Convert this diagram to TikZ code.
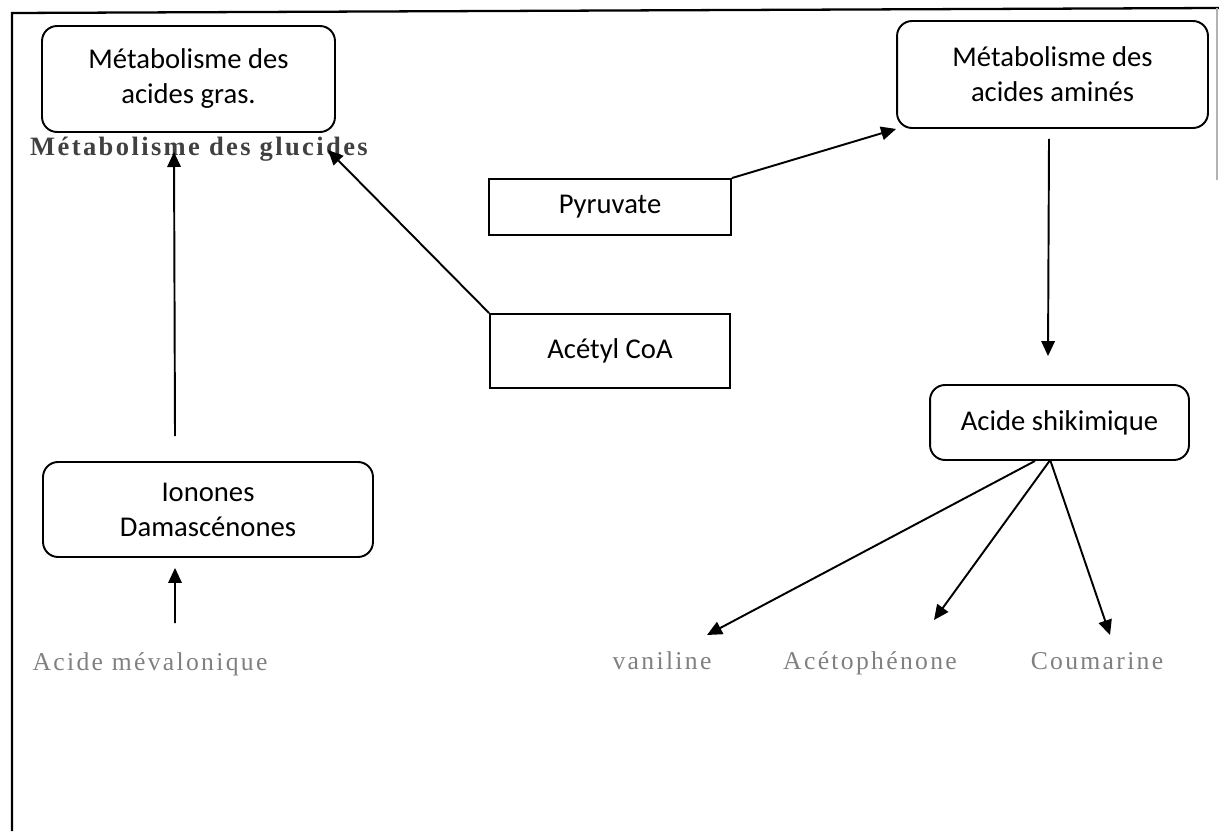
\documentclass[tikz,border=0pt]{standalone}
\usepackage{fontspec}
\setmainfont{Carlito}
\newfontfamily\scanfont[LetterSpace=9]{Liberation Serif}
\usetikzlibrary{arrows.meta}

\begin{document}
\begin{tikzpicture}[x=0.02cm,y=-0.02cm,
  every node/.style={font=\fontsize{16.3}{19.9}\selectfont},
  rbox/.style={draw,line width=1.1pt,rounded corners=0.3cm,align=center,inner sep=0pt},
  sbox/.style={draw,line width=1.1pt,align=center,inner sep=0pt},
  faded/.style={font=\scanfont\fontsize{14.6}{16}\selectfont,text=black!50,inner sep=0pt,anchor=base},
  arr/.style={-{Triangle[length=0.3cm,width=0.27cm]},line width=1.1pt}]
\useasboundingbox (0,0) rectangle (1219,831);
% page frame
\draw[line width=1.3pt] (12,831) -- (12,13) -- (1219,8);
\draw[black!30,line width=0.6pt] (1217,8) -- (1217,180);

% boxes
\node[rbox,minimum width=5.86cm,minimum height=2.12cm] (gras) at (188.5,79) {Métabolisme des\\acides gras.};
\node[rbox,minimum width=6.22cm,minimum height=2.14cm] (amines) at (1052.5,74.5) {Métabolisme des\\acides aminés};
\node[sbox,minimum width=4.84cm,minimum height=1.12cm] (pyr) at (610,207) {Pyruvate};
\node[sbox,minimum width=4.8cm,minimum height=1.48cm] (acetyl) at (610,351) {Acétyl CoA};
\node[rbox,minimum width=6.6cm,minimum height=1.9cm] (ionones) at (208,509.5) {Ionones\\Damascénones};
\node[rbox,minimum width=5.18cm,minimum height=1.5cm] (shiki) at (1059.5,422.5) {Acide shikimique};

% scanned labels
\node[faded,font=\scanfont\bfseries\fontsize{15.1}{16}\selectfont,text=black!75] (gluc) at (199,155) {Métabolisme des glucides};
\node[faded] (meva) at (150,670) {Acide mévalonique};
\node[faded] (vani) at (662,669) {vaniline};
\node[faded] (aceto) at (870,669) {Acétophénone};
\node[faded] (couma) at (1097,669) {Coumarine};

% arrow ends
\coordinate (t1) at (174,152);
\coordinate (t2) at (328,150);
\coordinate (s1) at (175,623);
\coordinate (t3) at (707,635);
\coordinate (t4) at (934,620);
\coordinate (t5) at (1110,635);

\draw[arr] ([xshift=-0.66cm,yshift=0.5cm]ionones.north) -- (t1);
\draw[arr] (acetyl.north west) -- (t2);
\draw[arr] (pyr.north east) -- (amines.south west);
\draw[arr] ([xshift=-0.07cm,yshift=-0.2cm]amines.south) -- ([xshift=-0.23cm,yshift=0.56cm]shiki.north);
\draw[arr] (s1) -- ([xshift=-0.66cm,yshift=-0.2cm]ionones.south);
\draw[arr] ([xshift=-0.49cm]shiki.south) -- (t3);
\draw[arr] ([xshift=-0.2cm]shiki.south) -- (t4);
\draw[arr] ([xshift=-0.18cm]shiki.south) -- (t5);
\end{tikzpicture}
\end{document}
